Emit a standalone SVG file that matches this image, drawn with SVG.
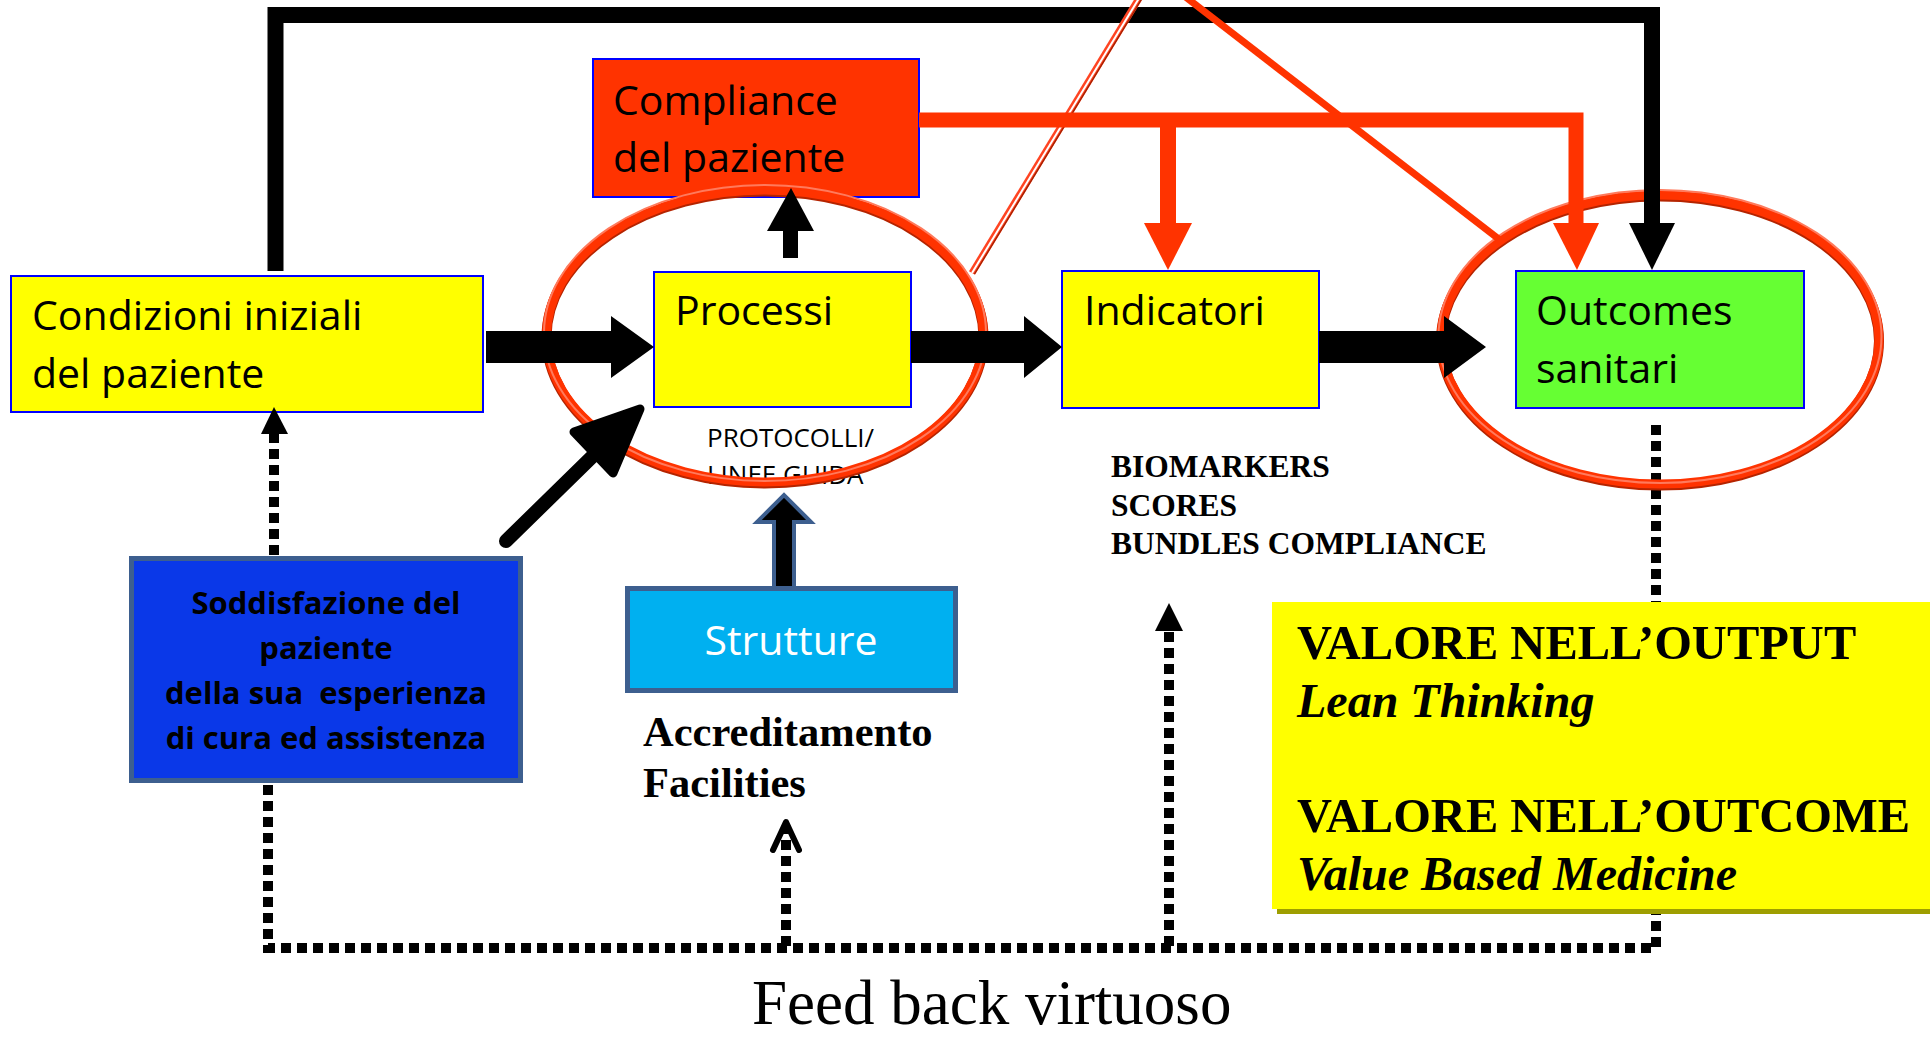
<svg xmlns="http://www.w3.org/2000/svg" width="1930" height="1039" viewBox="0 0 1930 1039">
<defs>
<style>
.box{stroke:#0000FF;stroke-width:2}
.cal{font-family:"Open Sans","Noto Sans",sans-serif;font-size:41px;fill:#000}
.calb{font-family:"Open Sans","Noto Sans",sans-serif;font-weight:bold;font-size:31px;fill:#000}
.tb{font-family:"Liberation Serif","Times New Roman",serif;font-weight:bold;fill:#000}
.dot{fill:none;stroke:#000;stroke-width:10;stroke-dasharray:10 6}
.ring{fill:none;stroke:#FF3300;stroke-width:9}
.ringd{fill:none;stroke:#B52400;stroke-width:10}
.ringl{fill:none;stroke:#FF7A5C;stroke-width:2}
</style>
<clipPath id="clipLG"><rect x="690" y="455" width="220" height="29"/></clipPath>
</defs>
<rect width="1930" height="1039" fill="#FFFFFF"/>

<!-- nodes -->
<g id="compliance">
<rect class="box" x="593" y="59" width="326" height="138" fill="#FF3300"/>
<text class="cal" x="613" y="115">Compliance</text>
<text class="cal" x="613" y="172">del paziente</text>
</g>
<g id="condizioni">
<rect class="box" x="11" y="276" width="472" height="136" fill="#FFFF00"/>
<text class="cal" x="32" y="330">Condizioni iniziali</text>
<text class="cal" x="32" y="388">del paziente</text>
</g>
<g id="processi">
<rect class="box" x="654" y="272" width="257" height="135" fill="#FFFF00"/>
<text class="cal" x="675" y="325">Processi</text>
</g>
<g id="protocolli">
<text class="cal" style="font-size:26px" x="707" y="447">PROTOCOLLI/</text>
<text class="cal" style="font-size:26px" x="707" y="484" clip-path="url(#clipLG)">LINEE GUIDA</text>
</g>
<g id="indicatori">
<rect class="box" x="1062" y="271" width="257" height="137" fill="#FFFF00"/>
<text class="cal" x="1084" y="325">Indicatori</text>
</g>
<g id="outcomes">
<rect class="box" x="1516" y="271" width="288" height="137" fill="#66FF33"/>
<text class="cal" x="1536" y="325">Outcomes</text>
<text class="cal" x="1536" y="383">sanitari</text>
</g>
<g id="soddisfazione">
<rect x="131.5" y="558.5" width="389" height="222" fill="#0A38E8" stroke="#3D5F8F" stroke-width="5"/>
<text class="calb" x="326" y="614" text-anchor="middle">Soddisfazione del</text>
<text class="calb" x="326" y="659" text-anchor="middle">paziente</text>
<text class="calb" x="326" y="704" text-anchor="middle" style="white-space:pre">della sua  esperienza</text>
<text class="calb" x="326" y="749" text-anchor="middle">di cura ed assistenza</text>
</g>
<g id="strutture">
<rect x="627.5" y="588.5" width="328" height="102" fill="#00B0F0" stroke="#3D5F8F" stroke-width="5"/>
<text class="cal" x="791" y="655" text-anchor="middle" style="fill:#FFFFFF">Strutture</text>
</g>
<g id="accreditamento">
<text class="tb" style="font-size:42.5px" x="643" y="746">Accreditamento</text>
<text class="tb" style="font-size:42.5px" x="643" y="797">Facilities</text>
</g>
<g id="biomarkers">
<text class="tb" style="font-size:31.5px" x="1111" y="477">BIOMARKERS</text>
<text class="tb" style="font-size:31.5px" x="1111" y="516">SCORES</text>
<text class="tb" style="font-size:31.5px" x="1111" y="554">BUNDLES COMPLIANCE</text>
</g>

<!-- connectors -->
<g id="connectors">
<!-- dotted feedback lines -->
<path class="dot" d="M268,785 V948 H1656 V420"/>
<path class="dot" d="M274,555 V432"/>
<polygon points="261,434 288,434 274,407" fill="#000"/>
<path class="dot" d="M786,946 V826"/>
<polyline points="773,850 786,822 799,850" fill="none" stroke="#000" stroke-width="6" stroke-linejoin="round" stroke-linecap="round"/>
<path class="dot" d="M1169,946 V628"/>
<polygon points="1155,631 1183,631 1169,603" fill="#000"/>

<!-- ellipses -->
<ellipse class="ringd" cx="765" cy="337.5" rx="218.5" ry="146"/>
<ellipse class="ring" cx="765" cy="336" rx="218.5" ry="146"/>
<ellipse class="ringl" cx="765" cy="333" rx="221" ry="148"/>
<ellipse class="ringd" cx="1660" cy="341" rx="219" ry="144.5"/>
<ellipse class="ring" cx="1660" cy="339.5" rx="219" ry="144.5"/>
<ellipse class="ringl" cx="1660" cy="336.5" rx="221.5" ry="146.5"/>

<!-- top black connector -->
<polyline points="275.5,271 275.5,15 1652,15 1652,226" fill="none" stroke="#000" stroke-width="16" stroke-linejoin="miter"/>
<polygon points="1629,223 1675,223 1652,270" fill="#000"/>

<!-- red thin lines -->
<line x1="1141" y1="-5" x2="972" y2="273" stroke="#FF4422" stroke-width="7"/>
<line x1="1141" y1="-5" x2="972" y2="273" stroke="#FFFFFF" stroke-width="2"/>
<line x1="1143.5" y1="-4" x2="974.5" y2="274" stroke="#A02000" stroke-width="1.2"/>
<line x1="1183" y1="-5" x2="1500" y2="240" stroke="#FF3300" stroke-width="7"/>

<!-- red compliance connectors -->
<polyline points="919,120 1576,120 1576,226" fill="none" stroke="#FF3300" stroke-width="15" stroke-linejoin="miter"/>
<polygon points="1553,223 1599,223 1577,270" fill="#FF3300"/>
<line x1="1168" y1="120" x2="1168" y2="226" stroke="#FF3300" stroke-width="16"/>
<polygon points="1144,223 1192,223 1168,270" fill="#FF3300"/>

<!-- Processi -> Compliance -->
<rect x="783" y="228" width="15" height="30" fill="#000"/>
<polygon points="767,231 814,231 791,188" fill="#000"/>

<!-- block arrows main flow -->
<polygon points="486,331 611,331 611,316 654,347 611,378 611,363 486,363" fill="#000"/>
<polygon points="911,331 1024,331 1024,316 1062,347 1024,378 1024,363 911,363" fill="#000"/>
<polygon points="1319,331 1444,331 1444,316 1486,347 1444,378 1444,363 1319,363" fill="#000"/>

<!-- Soddisfazione -> Processi -->
<line x1="506" y1="541" x2="600" y2="449" stroke="#000" stroke-width="14" stroke-linecap="round"/>
<polygon points="640,409 574,432 613,473" fill="#000" stroke="#000" stroke-width="9" stroke-linejoin="round"/>

<!-- Strutture -> Processi -->
<polygon points="774,588 774,522 757,522 784,495 811,522 794,522 794,588" fill="#000" stroke="#3D5F8F" stroke-width="4" stroke-linejoin="miter"/>
</g>

<g id="valore">
<rect x="1277" y="607" width="660" height="307" fill="#9E9E00"/>
<rect x="1272" y="602" width="665" height="307" fill="#FFFF00"/>
<text class="tb" style="font-size:48.5px" x="1297" y="659">VALORE NELL’OUTPUT</text>
<text class="tb" style="font-size:48px;font-style:italic" x="1297" y="717">Lean Thinking</text>
<text class="tb" style="font-size:48.5px" x="1297" y="832">VALORE NELL’OUTCOME</text>
<text class="tb" style="font-size:48px;font-style:italic" x="1297" y="890">Value Based Medicine</text>
</g>

<g id="feedback">
<text x="752" y="1024" style="font-family:'Liberation Serif','Times New Roman',serif;font-size:63px" fill="#000">Feed back virtuoso</text>
</g>
</svg>
